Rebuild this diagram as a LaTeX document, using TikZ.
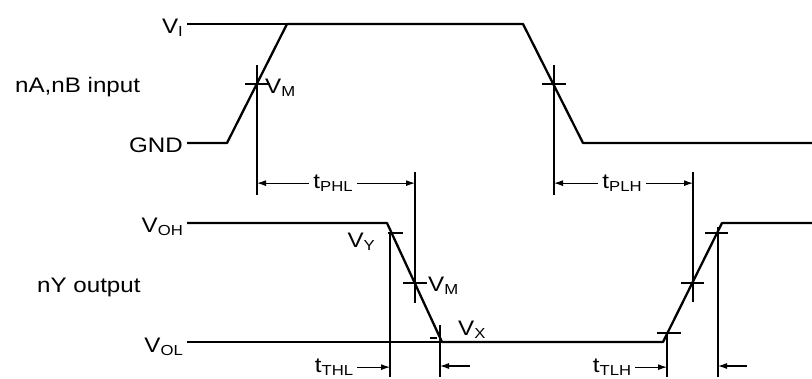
\documentclass[tikz,border=0pt]{standalone}
\usepackage{fontspec}
\setmainfont[FakeStretch=1.15]{Liberation Sans}
\usepackage{tikz}
\usetikzlibrary{arrows.meta}

\newcommand{\lsub}[1]{\raisebox{-0.35ex}{\fontsize{14.5}{14.5}\selectfont #1}}

\begin{document}
\begin{tikzpicture}[x=1pt,y=-1pt,
	wave/.style={line width=2.3pt,line join=round},
	guide/.style={line width=1.1pt},
	lbl/.style={inner sep=0pt,font=\fontsize{21}{24}\selectfont},
	tlbl/.style={lbl,inner xsep=4pt},
	dim/.style={line width=1.1pt,-{Latex[length=9pt,width=6pt]}}]
			\useasboundingbox (0,0) rectangle (812,378);
			
			% levels
			
			\node[lbl,anchor=base east] (VI) at (183,33) {V\lsub{I}};
			\node[lbl,anchor=base east] (GND) at (183,152) {GND};
			\node[lbl,anchor=base west] (IN) at (15,92) {nA,nB input};
			\node[lbl,anchor=base east] (VOH) at (183,232) {V\lsub{OH}};
			\node[lbl,anchor=base west] (OUT) at (37,292) {nY output};
			\node[lbl,anchor=base east] (VOL) at (183,352) {V\lsub{OL}};
			
			% input
			
			\draw[wave] (187,24) -- (287,24);
			\draw[wave] (187,143) -- (227,143) -- (287,24) -- (523,24) -- (583,143) -- (812,143);
			\node[lbl,anchor=base west] (VM1) at (265,93) {V\lsub{M}};
			
			% output
			
			\draw[wave] (187,223) -- (387,223) -- (442,342) -- (663,342) -- (722,223) -- (812,223);
			\draw[guide] (187,342) -- (442,342);
			\node[lbl,anchor=base east] (VY) at (375,247) {V\lsub{Y}};
			\node[lbl,anchor=base west] (VM2) at (428,291) {V\lsub{M}};
			\node[lbl,anchor=base west] (VX) at (458,335) {V\lsub{X}};
			
			% guide lines
			
			\coordinate (G1) at (257,65);  \coordinate (H1) at (257,195);
			\coordinate (G2) at (554,65);  \coordinate (H2) at (554,195);
			\coordinate (G3) at (415,172); \coordinate (H3) at (415,303);
			\coordinate (G4) at (693,172); \coordinate (H4) at (693,302);
			\coordinate (G5) at (390,233); \coordinate (H5) at (390,377);
			\coordinate (G6) at (440,325); \coordinate (H6) at (440,377);
			\coordinate (G7) at (667,333); \coordinate (H7) at (667,377);
			\coordinate (G8) at (718,227); \coordinate (H8) at (718,377);
			\foreach \i in {1,...,8} {
				\draw[guide] (G\i) -- (H\i);
			}
			
			% ticks
			
			\foreach \xa/\xb/\y in {245/270/84, 542/566/84, 388/403/233, 403/427/283,
				430/437/338, 657/681/333, 681/704/283, 705/728/233} {
				\draw[guide] (\xa,\y) -- (\xb,\y);
			}
			
			% propagation delays
			
			\node[tlbl,anchor=base] (tPHL) at (333,188) {t\lsub{PHL}};
			\draw[dim] (tPHL.west) -- (tPHL.west -| G1);
			\draw[dim] (tPHL.east) -- (tPHL.east -| G3);
			
			\node[tlbl,anchor=base] (tPLH) at (622,188) {t\lsub{PLH}};
			\draw[dim] (tPLH.west) -- (tPLH.west -| G2);
			\draw[dim] (tPLH.east) -- (tPLH.east -| G4);
			
			% transition times
			
			\node[tlbl,anchor=base] (tTHL) at (334,372) {t\lsub{THL}};
			\draw[dim] (tTHL.east) -- (tTHL.east -| G5);
			\coordinate (A6) at (470,366);
			\draw[dim] (A6) -- (A6 -| G6);
			
			\node[tlbl,anchor=base] (tTLH) at (612,372) {t\lsub{TLH}};
			\draw[dim] (tTLH.east) -- (tTLH.east -| G7);
			\coordinate (A8) at (747,366);
			\draw[dim] (A8) -- (A8 -| G8);
			
		\end{tikzpicture}
\end{document}
